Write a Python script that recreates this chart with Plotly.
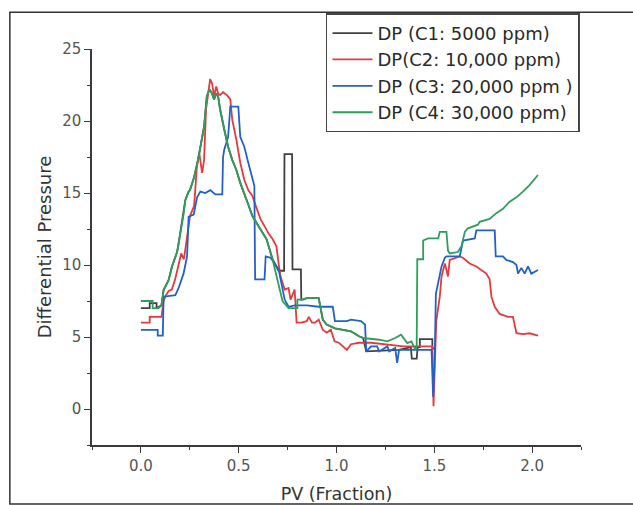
import plotly.graph_objects as go

# ---- data (PV fraction, differential pressure) ----
series_names = ["DP (C1: 5000 ppm)", "DP(C2: 10,000 ppm)", "DP (C3: 20,000 ppm )", "DP (C4: 30,000 ppm)"]
series_colors = ["#404040", "#e8383d", "#1f62cc", "#2f9e5c"]

c1_points = [(0, 7.0), (0.045, 7.0), (0.045, 7.35), (0.08, 7.35), (0.08, 7.0), (0.105, 7.2),
             (0.116, 8.26), (0.142, 8.96), (0.159, 9.9), (0.185, 10.9), (0.193, 11.5), (0.218, 13.5),
             (0.227, 14.5), (0.244, 15.1), (0.251, 15.2), (0.27, 16.0), (0.292, 17.3), (0.323, 19.6),
             (0.337, 21.7), (0.35, 22.2), (0.364, 21.9), (0.374, 21.5), (0.385, 21.9), (0.395, 21.7),
             (0.405, 20.8), (0.426, 19.4), (0.446, 18.2), (0.467, 17.3), (0.488, 16.6), (0.508, 15.7),
             (0.529, 15.0), (0.549, 14.2), (0.57, 13.4), (0.60, 12.7), (0.642, 11.8), (0.673, 10.4),
             (0.704, 9.6), (0.732, 9.6), (0.734, 17.7), (0.773, 17.7), (0.775, 9.7), (0.818, 9.7),
             (0.82, 7.6), (0.827, 7.6), (0.848, 7.7), (0.909, 7.7), (0.93, 6.2), (0.95, 5.86),
             (0.992, 5.6), (1.033, 5.5), (1.074, 5.4), (1.115, 5.05), (1.136, 4.93), (1.152, 4.0),
             (1.32, 4.1), (1.38, 4.3), (1.385, 3.5), (1.41, 3.5), (1.415, 4.3), (1.426, 4.3),
             (1.426, 4.85), (1.49, 4.85), (1.49, 4.2), (1.5, 4.2)]

c2_points = [(0, 6.0), (0.045, 6.0), (0.045, 6.4), (0.105, 6.4), (0.116, 7.5), (0.128, 7.9),
             (0.142, 8.2), (0.158, 8.3), (0.175, 9.0), (0.19, 9.9), (0.206, 10.8), (0.22, 10.4),
             (0.24, 12.2), (0.251, 13.4), (0.272, 14.1), (0.286, 16.8), (0.298, 17.8), (0.313, 16.4),
             (0.323, 17.3), (0.333, 20.8), (0.345, 22.0), (0.354, 22.9), (0.364, 22.6), (0.374, 21.7),
             (0.385, 22.4), (0.395, 21.9), (0.405, 21.8), (0.42, 22.0), (0.44, 21.8), (0.457, 21.5),
             (0.467, 20.1), (0.488, 18.7), (0.508, 17.1), (0.529, 15.9), (0.549, 15.2), (0.57, 14.8),
             (0.59, 14.0), (0.60, 13.6), (0.611, 13.2), (0.632, 12.7), (0.652, 12.2), (0.673, 11.8),
             (0.693, 11.3), (0.704, 10.1), (0.714, 9.2), (0.735, 8.3), (0.755, 8.4), (0.765, 7.6),
             (0.786, 8.3), (0.796, 6.0), (0.82, 6.0), (0.848, 6.1), (0.858, 6.4), (0.875, 6.0),
             (0.889, 6.0), (0.909, 6.2), (0.93, 5.5), (0.95, 5.3), (0.971, 5.5), (0.99, 4.7),
             (1.012, 4.6), (1.033, 4.35), (1.053, 4.1), (1.074, 4.5), (1.115, 4.6), (1.177, 4.6),
             (1.239, 4.5), (1.342, 4.35), (1.444, 4.35), (1.49, 4.35), (1.496, 0.2), (1.51, 6.1),
             (1.528, 7.8), (1.537, 9.2), (1.554, 10.1), (1.57, 9.2), (1.579, 10.35), (1.63, 10.6),
             (1.646, 10.5), (1.681, 10.1), (1.715, 9.9), (1.766, 9.4), (1.783, 9.0), (1.792, 7.8),
             (1.809, 7.1), (1.834, 6.6), (1.877, 6.4), (1.902, 6.4), (1.92, 5.26), (1.953, 5.2),
             (1.987, 5.26), (2.03, 5.1)]

c3_points = [(0, 5.5), (0.086, 5.5), (0.086, 5.1), (0.112, 5.1), (0.116, 7.8), (0.176, 7.9),
             (0.19, 8.3), (0.218, 9.4), (0.236, 10.6), (0.244, 13.35), (0.27, 13.5), (0.287, 14.7),
             (0.304, 15.1), (0.329, 15.0), (0.355, 15.2), (0.38, 14.9), (0.416, 14.9), (0.42, 17.5),
             (0.426, 18.0), (0.446, 18.9), (0.457, 21.0), (0.498, 21.0), (0.508, 18.9), (0.529, 18.2),
             (0.549, 17.1), (0.57, 15.9), (0.58, 15.5), (0.584, 9.0), (0.632, 9.0), (0.638, 10.6),
             (0.663, 10.5), (0.704, 9.7), (0.724, 8.3), (0.735, 7.6), (0.755, 7.1), (0.786, 7.2),
             (0.848, 7.2), (0.909, 7.1), (0.981, 7.1), (0.992, 6.1), (1.053, 6.1), (1.074, 6.2),
             (1.125, 6.1), (1.146, 5.86), (1.152, 4.0), (1.177, 4.35), (1.208, 4.35), (1.218, 4.0),
             (1.26, 4.35), (1.27, 4.0), (1.30, 4.24), (1.31, 3.2), (1.32, 4.1), (1.34, 4.1),
             (1.486, 4.1), (1.494, 0.85), (1.503, 4.1), (1.508, 8.0), (1.52, 8.7), (1.537, 9.9),
             (1.554, 10.5), (1.562, 10.6), (1.63, 10.6), (1.647, 11.7), (1.707, 11.85), (1.715, 12.4),
             (1.809, 12.4), (1.814, 10.6), (1.851, 10.6), (1.868, 10.35), (1.902, 10.2), (1.92, 10.0),
             (1.928, 9.4), (1.945, 9.8), (1.962, 9.4), (1.979, 9.9), (1.996, 9.4), (2.03, 9.65)]

c4_points = [(0, 7.5), (0.06, 7.5), (0.06, 7.0), (0.09, 7.0), (0.105, 7.2), (0.116, 8.26),
             (0.142, 8.96), (0.159, 9.9), (0.185, 10.9), (0.193, 11.5), (0.218, 13.5), (0.227, 14.5),
             (0.244, 15.1), (0.251, 15.2), (0.27, 16.0), (0.292, 17.3), (0.323, 19.6), (0.337, 21.7),
             (0.35, 22.2), (0.364, 21.9), (0.374, 21.5), (0.385, 21.9), (0.395, 21.7), (0.405, 20.8),
             (0.426, 19.4), (0.446, 18.2), (0.467, 17.3), (0.488, 16.6), (0.508, 15.7), (0.529, 15.0),
             (0.549, 14.2), (0.57, 13.4), (0.60, 12.7), (0.642, 11.8), (0.673, 10.4), (0.704, 8.75),
             (0.724, 7.5), (0.755, 7.0), (0.80, 7.0), (0.80, 7.6), (0.827, 7.6), (0.848, 7.7),
             (0.909, 7.7), (0.93, 6.2), (0.95, 5.86), (0.992, 5.6), (1.033, 5.5), (1.074, 5.4),
             (1.115, 5.05), (1.136, 4.93), (1.218, 4.81), (1.26, 4.7), (1.30, 4.93), (1.33, 5.16),
             (1.362, 4.58), (1.383, 4.7), (1.403, 4.12), (1.41, 4.35), (1.413, 10.4), (1.443, 10.4),
             (1.443, 11.7), (1.468, 11.85), (1.52, 11.85), (1.528, 12.3), (1.562, 12.3), (1.57, 11.0),
             (1.579, 10.8), (1.62, 10.9), (1.639, 11.3), (1.656, 12.3), (1.672, 12.55), (1.723, 12.8),
             (1.732, 13.0), (1.783, 13.2), (1.817, 13.6), (1.851, 13.9), (1.885, 14.4), (1.92, 14.7),
             (1.953, 15.1), (1.987, 15.55), (2.03, 16.25)]

all_points = [c1_points, c2_points, c3_points, c4_points]

x_tick_vals = [0.0, 0.5, 1.0, 1.5, 2.0]
x_tick_text = ["0.0", "0.5", "1.0", "1.5", "2.0"]
y_tick_vals = [0, 5, 10, 15, 20, 25]

FONT = "DejaVu Sans"
fig = go.Figure()
for name, color, pts in zip(series_names, series_colors, all_points):
    xs = [p[0] for p in pts]
    ys = [p[1] for p in pts]
    fig.add_trace(go.Scatter(x=xs, y=ys, mode="lines", name=name,
                             line=dict(color=color, width=1.8)))

axis_common = dict(showline=True, linecolor="#3a3a3a", linewidth=1.5, ticks="outside",
                   ticklen=6, tickwidth=1.3, tickcolor="#3a3a3a", showgrid=False, zeroline=False,
                   automargin=False,
                   tickfont=dict(family=FONT, size=15, color="#555555"))

fig.update_layout(
    width=633, height=505,
    margin=dict(l=92, r=52, t=49, b=60, autoexpand=False),
    paper_bgcolor="white", plot_bgcolor="white",
    showlegend=True,
    legend=dict(x=0.4785, y=1.09, xanchor="left", yanchor="top",
                bordercolor="#444444", borderwidth=1.5, bgcolor="white", itemwidth=40,
                font=dict(family=FONT, size=18, color="#2a2a2a"), tracegroupgap=0),
    xaxis=dict(range=[-0.25, 2.25], tickvals=x_tick_vals, ticktext=x_tick_text,
               minor=dict(ticks="outside", ticklen=3, dtick=0.25, tick0=0, tickcolor="#3a3a3a"),
               title=dict(text="PV (Fraction)", font=dict(family=FONT, size=17.5, color="#333333"),
                          standoff=14),
               **axis_common),
    yaxis=dict(range=[-2.5, 25], tickvals=y_tick_vals,
               minor=dict(ticks="outside", ticklen=3, dtick=2.5, tick0=0, tickcolor="#3a3a3a"),
               title=dict(text="Differential Pressure", font=dict(family=FONT, size=18, color="#333333"),
                          standoff=6),
               **axis_common),
    shapes=[dict(type="rect", xref="paper", yref="paper", x0=-0.168, x1=1.2, y0=-0.149, y1=1.093,
                 line=dict(color="#333333", width=1.5), fillcolor="rgba(0,0,0,0)", layer="below")],
)

fig.write_html("out.html")
